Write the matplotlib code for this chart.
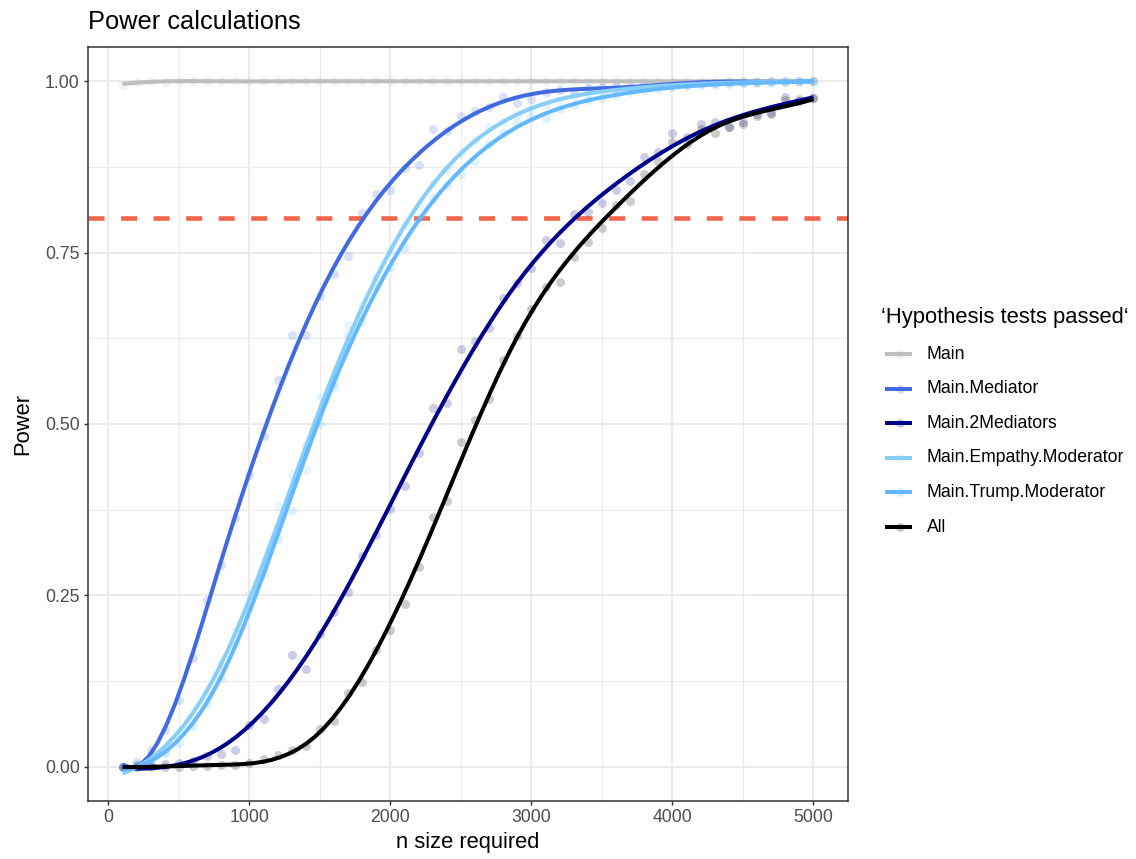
import numpy as np
import matplotlib

matplotlib.use("Agg")
import matplotlib.pyplot as plt
from matplotlib.lines import Line2D

plt.rcParams["font.family"] = ["Liberation Sans", "DejaVu Sans"]

# simulated power for each sample size (100 .. 5000 by 100)
n_size = list(range(100, 5001, 100))

power_main = [
    0.995, 0.999, 1.000, 0.999, 1.000, 1.000, 1.000, 1.000, 1.000, 1.000,
    1.000, 1.000, 1.000, 1.000, 1.000, 1.000, 1.000, 1.000, 1.000, 1.000,
    1.000, 1.000, 1.000, 1.000, 1.000, 1.000, 1.000, 1.000, 1.000, 1.000,
    1.000, 1.000, 1.000, 1.000, 1.000, 1.000, 1.000, 1.000, 1.000, 1.000,
    1.000, 1.000, 1.000, 1.000, 1.000, 1.000, 1.000, 1.000, 1.000, 1.000,
]
power_mediator = [
    0.000, 0.007, 0.025, 0.054, 0.098, 0.158, 0.243, 0.294, 0.363, 0.425,
    0.483, 0.564, 0.630, 0.630, 0.687, 0.719, 0.745, 0.808, 0.835, 0.842,
    0.874, 0.878, 0.930, 0.927, 0.949, 0.957, 0.963, 0.977, 0.968, 0.974,
    0.985, 0.987, 0.983, 0.990, 0.991, 0.993, 0.992, 0.995, 0.996, 0.997,
    0.996, 0.998, 0.998, 0.999, 0.999, 0.999, 1.000, 1.000, 1.000, 1.000,
]
power_2mediators = [
    0.000, 0.002, 0.002, 0.004, 0.005, 0.009, 0.015, 0.018, 0.025, 0.061,
    0.069, 0.113, 0.163, 0.143, 0.193, 0.226, 0.255, 0.307, 0.338, 0.376,
    0.410, 0.457, 0.523, 0.530, 0.609, 0.621, 0.640, 0.684, 0.706, 0.728,
    0.769, 0.764, 0.807, 0.810, 0.823, 0.842, 0.854, 0.889, 0.897, 0.924,
    0.918, 0.937, 0.940, 0.934, 0.941, 0.952, 0.954, 0.977, 0.974, 0.975,
]
power_empathy = [
    0.000, 0.004, 0.010, 0.022, 0.051, 0.069, 0.105, 0.149, 0.198, 0.250,
    0.281, 0.380, 0.425, 0.433, 0.540, 0.553, 0.644, 0.673, 0.713, 0.754,
    0.790, 0.817, 0.850, 0.870, 0.896, 0.915, 0.933, 0.940, 0.952, 0.960,
    0.966, 0.972, 0.978, 0.982, 0.985, 0.988, 0.990, 0.992, 0.993, 0.994,
    0.996, 0.996, 0.997, 0.998, 0.998, 0.999, 0.999, 0.999, 1.000, 1.000,
]
power_trump = [
    0.000, 0.003, 0.008, 0.020, 0.034, 0.060, 0.092, 0.129, 0.180, 0.232,
    0.290, 0.332, 0.373, 0.470, 0.500, 0.560, 0.630, 0.650, 0.700, 0.729,
    0.757, 0.800, 0.830, 0.849, 0.864, 0.883, 0.908, 0.925, 0.940, 0.948,
    0.947, 0.960, 0.966, 0.972, 0.976, 0.980, 0.984, 0.987, 0.989, 0.991,
    0.993, 0.994, 0.995, 0.996, 0.997, 0.998, 0.998, 0.999, 0.999, 1.000,
]
power_all = [
    0.000, 0.000, 0.000, 0.000, 0.000, 0.001, 0.001, 0.002, 0.003, 0.005,
    0.012, 0.017, 0.025, 0.030, 0.055, 0.067, 0.108, 0.123, 0.171, 0.199,
    0.237, 0.291, 0.365, 0.387, 0.474, 0.506, 0.536, 0.594, 0.628, 0.668,
    0.700, 0.707, 0.744, 0.766, 0.786, 0.820, 0.826, 0.864, 0.883, 0.912,
    0.908, 0.930, 0.925, 0.934, 0.938, 0.949, 0.952, 0.972, 0.971, 0.975,
]

series_labels = [
    "Main",
    "Main.Mediator",
    "Main.2Mediators",
    "Main.Empathy.Moderator",
    "Main.Trump.Moderator",
    "All",
]
series_values = [
    power_main,
    power_mediator,
    power_2mediators,
    power_empathy,
    power_trump,
    power_all,
]
series_colors = ["#BEBEBE", "#4169E1", "#00008B", "#87CEFA", "#63B8FF", "#000000"]

power_target = 0.8


def bspline_basis(x, lo, hi, nseg=7, deg=3):
    dx = (hi - lo) / nseg
    knots = lo + dx * np.arange(-deg, nseg + deg + 1)
    B = ((x[:, None] >= knots[None, :-1]) & (x[:, None] < knots[None, 1:])).astype(float)
    for d in range(1, deg + 1):
        Bn = np.zeros((len(x), B.shape[1] - 1))
        for i in range(B.shape[1] - 1):
            left = (x - knots[i]) / (knots[i + d] - knots[i]) * B[:, i]
            right = (knots[i + d + 1] - x) / (knots[i + d + 1] - knots[i + 1]) * B[:, i + 1]
            Bn[:, i] = left + right
        B = Bn
    return B


def smooth(x, y, x_out, gamma=2.0):
    # penalised regression spline, smoothness picked by (inflated) GCV
    x = np.asarray(x, float)
    y = np.asarray(y, float)
    x_out = np.asarray(x_out, float)
    lo, hi = x.min() - 1, x.max() + 1
    B = bspline_basis(x, lo, hi)
    nb = B.shape[1]
    D = np.diff(np.eye(nb), 2, axis=0)
    P = D.T @ D
    best = None
    for lam in 10.0 ** np.arange(-4, 4.01, 0.25):
        A = np.linalg.solve(B.T @ B + lam * P, B.T)
        coef = A @ y
        tr = np.trace(B @ A)
        rss = np.sum((y - B @ coef) ** 2)
        gcv = len(y) * rss / (len(y) - gamma * tr) ** 2
        if best is None or gcv < best[0]:
            best = (gcv, coef)
    return bspline_basis(x_out, lo, hi) @ best[1]


W, H = 1136, 859
fig = plt.figure(figsize=(W / 100, H / 100), dpi=100)
ax = fig.add_axes([88 / W, 1 - 801 / H, (848 - 88) / W, (801 - 47) / H])

ax.set_xlim(-145, 5245)
ax.set_ylim(-0.05, 1.05)
ax.set_xticks([0, 1000, 2000, 3000, 4000, 5000])
ax.set_xticks([500, 1500, 2500, 3500, 4500], minor=True)
ax.set_yticks([0, 0.25, 0.5, 0.75, 1.0])
ax.set_yticks([0.125, 0.375, 0.625, 0.875], minor=True)
ax.set_yticklabels(["0.00", "0.25", "0.50", "0.75", "1.00"])
ax.grid(True, which="major", color="#EBEBEB", lw=1.5, zorder=0)
ax.grid(True, which="minor", color="#EBEBEB", lw=0.8, zorder=0)
ax.set_axisbelow(True)
ax.tick_params(which="major", length=3, width=1.0, color="#333333",
               labelcolor="#4D4D4D", labelsize=12.7, pad=3)
ax.tick_params(which="minor", length=0)
for sp in ax.spines.values():
    sp.set_color("#333333")
    sp.set_linewidth(1.1)

ax.axhline(power_target, color="#F0654B", lw=3.3, dashes=(3.5, 3.6),
           dash_capstyle="butt", zorder=2)

for vals, col in zip(series_values, series_colors):
    ax.scatter(n_size, vals, s=42, color=col, alpha=0.2, lw=0, zorder=3)

x_grid = np.linspace(min(n_size), max(n_size), 80)
for vals, col in zip(series_values, series_colors):
    ax.plot(x_grid, smooth(n_size, vals, x_grid), color=col, lw=2.9,
            solid_capstyle="butt", zorder=4)

ax.set_xlabel("n size required", fontsize=15.8, labelpad=4)
ax.set_ylabel("Power", fontsize=15.8, labelpad=8)
fig.text(88 / W, 1 - 22 / H, "Power calculations", fontsize=18.3, va="center", ha="left")

# legend
fig.text(881 / W, 1 - 317 / H, "\u2018Hypothesis tests passed\u2018", fontsize=15.8,
         va="center", ha="left")
for i, (lab, col) in enumerate(zip(series_labels, series_colors)):
    yk = 1 - (354 + i * 34.6) / H
    fig.add_artist(Line2D([900 / W], [yk], marker="o", ms=6.5, color=col,
                          alpha=0.2, mew=0, transform=fig.transFigure))
    fig.add_artist(Line2D([885 / W, 912 / W], [yk, yk], color=col, lw=2.9,
                          solid_capstyle="butt", transform=fig.transFigure))
    fig.text(927 / W, yk, lab, fontsize=12.7, va="center", ha="left")

fig.savefig("out.png", dpi=100)
